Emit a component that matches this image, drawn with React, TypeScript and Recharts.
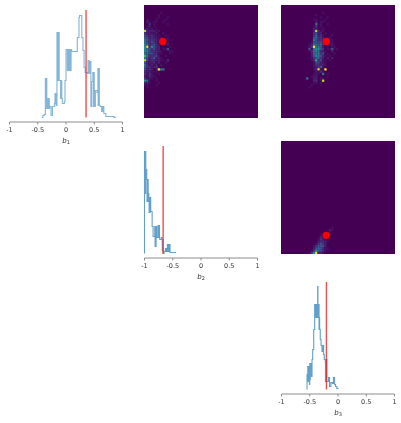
import React from "react";
import { LineChart, Line, XAxis, YAxis, ReferenceLine, ScatterChart, Scatter, ReferenceDot, CartesianGrid, Label } from "recharts";

const tickValues = [-1, -0.5, 0, 0.5, 1];
const trueB1 = 0.355;
const trueB2 = -0.67;
const trueB3 = -0.205;

const b1Bins = [
  -0.43, -0.41, -0.385, -0.365, -0.36, -0.355, -0.35, -0.345, -0.34, -0.335,
  -0.32, -0.315, -0.31, -0.305, -0.3, -0.295, -0.29, -0.265, -0.24, -0.205,
  -0.195, -0.176, -0.16, -0.155, -0.15, -0.145, -0.14, -0.135, -0.13, -0.12,
  -0.1, -0.095, -0.09, -0.085, -0.08, -0.075, -0.065, -0.03, -0.018, 0,
  0.018, 0.024, 0.03, 0.036, 0.042, 0.048, 0.054, 0.06, 0.066, 0.072,
  0.078, 0.084, 0.09, 0.1, 0.12, 0.2, 0.23, 0.24, 0.28, 0.3,
  0.32, 0.34, 0.37, 0.39, 0.41, 0.43, 0.44, 0.45, 0.475, 0.48,
  0.485, 0.49, 0.495, 0.5, 0.52, 0.55, 0.565, 0.57, 0.575, 0.58,
  0.585, 0.59, 0.605, 0.63, 0.65, 0.67, 0.705, 0.85, 0.87,
];
const b1Counts = [
  0, 2, 3, 39, 9, 39, 9, 39, 9, 9,
  19, 9, 19, 9, 19, 9, 11, 2, 11, 14,
  24, 12, 85, 37, 85, 37, 85, 37, 85, 37,
  37, 19, 37, 19, 37, 19, 14, 16, 37, 68,
  68, 47, 68, 47, 68, 47, 68, 47, 68, 47,
  68, 47, 68, 66, 66, 80, 100, 102, 80, 67,
  50, 45, 44, 57, 44, 56, 11, 36, 45, 11,
  45, 11, 45, 11, 27, 25, 49, 12, 49, 12,
  49, 12, 11, 6, 11, 4, 1, 0, 1,
];

const b2Bins = [
  -1, -1, -0.995, -0.99, -0.985, -0.98, -0.977, -0.96, -0.955, -0.95,
  -0.945, -0.94, -0.935, -0.93, -0.924, -0.918, -0.912, -0.906, -0.9, -0.89,
  -0.865, -0.848, -0.818, -0.813, -0.808, -0.803, -0.795, -0.783, -0.76, -0.755,
  -0.75, -0.745, -0.74, -0.735, -0.73, -0.713, -0.7, -0.69, -0.685, -0.68,
  -0.675, -0.67, -0.654, -0.63, -0.613, -0.595, -0.59, -0.585, -0.58, -0.575,
  -0.57, -0.56, -0.548, -0.443,
];
const b2Counts = [
  0, 102, 60, 102, 60, 102, 84, 74, 52, 74,
  52, 74, 52, 60, 56, 41, 56, 41, 56, 42,
  27, 17, 27, 7, 27, 7, 27, 16, 28, 16,
  28, 16, 28, 16, 14, 14, 16, 14, 3, 14,
  3, 0, 2, 5, 2, 9, 2, 9, 2, 9,
  2, 9, 1, 1,
];

const b3Bins = [
  -0.548, -0.548, -0.54, -0.535, -0.53, -0.525, -0.52, -0.513, -0.505, -0.5,
  -0.495, -0.49, -0.478, -0.47, -0.46, -0.448, -0.43, -0.413, -0.405, -0.4,
  -0.395, -0.39, -0.385, -0.38, -0.375, -0.37, -0.36, -0.355, -0.343, -0.335,
  -0.33, -0.325, -0.314, -0.3, -0.284, -0.267, -0.255, -0.243, -0.226, -0.222,
  -0.218, -0.214, -0.21, -0.197, -0.167, -0.15, -0.126, -0.1, -0.08, -0.06,
  -0.044, -0.02, 0.01,
];
const b3Counts = [
  0, 15, 8, 23, 8, 23, 8, 22, 5, 26,
  10, 26, 26, 13, 30, 40, 60, 85, 72, 85,
  72, 85, 72, 85, 72, 85, 103, 72, 85, 60,
  72, 60, 50, 44, 38, 44, 35, 30, 28, 8,
  30, 8, 30, 8, 12, 3, 7, 6, 12, 5,
  3, 1, 1,
];

// density classes of the 2-d histograms, one string per bin row
const b2b1FirstRow = 3;
const b2b1Rows = [
  "0000000100000", "0000001000000", "0000001000100", "0100010001000",
  "0210110010000", "0030100000100", "0120100000000", "1211010000000",
  "8222211000000", "3221120010000", "4323211001000", "4423221100100",
  "5433321101100", "5434321000100", "6533431000200", "6936432000010",
  "6543422011400", "6643332100011", "5544331100010", "7533341001000",
  "5423422100000", "8423322110300", "4222312001000", "5312120100000",
  "4331230000000", "4232019550000", "3221110000000", "3131001000000",
  "2131100000000", "3121010000000", "6510010000000", "2210001000000",
  "1100010000000", "0100000000000",
];
const b3b1FirstCol = 10;
const b3b1FirstRow = 3;
const b3b1Rows = [
  "0000000010000000", "0000010000000000", "0000000100100000", "0000110001000000",
  "0000020110000000", "0000050100100000", "0000130100000000", "0000220010000000",
  "0000282110000000", "0000342201000000", "0000352310001000", "0000453320110000",
  "0000543320101000", "0001444420011000", "0012554530012000", "0013955420101100",
  "0040566430114010", "0013565321002000", "0002556340100100", "0002465421010000",
  "0001345320202000", "0001373411010000", "0000144221000000", "0000133221000000",
  "0000123410000000", "0000129119000000", "0000021310000000", "0000111050100000",
  "0001120000000000", "0500220110000000", "0000230180000000", "0000110100000000",
  "0001000000000000", "0010000000000000",
];
const b3b2FirstCol = 10;
const b3b2FirstRow = 38;
const b3b2Rows = [
  "0000000000001000", "0000000000021000", "0000000000010000", "0000000111000000",
  "0000000210000000", "0000001321000000", "0000002332100000", "0000013432000000",
  "0000134442000000", "0000245431100000", "0001365431000000", "0013692210000000",
];

const viridis = ["#440154", "#461063", "#472070", "#46307d", "#3b528b", "#2c758e", "#21908d", "#35b779", "#b5de2b", "#fde725"];

const cellsOf = (rows: string[], firstRow: number, firstCol: number) => {
  const out: { x: number; y: number; v: number }[] = [];
  rows.forEach((row, i) => {
    row.split("").forEach((c, j) => {
      if (c !== "0") {
        out.push({ x: -1 + (firstCol + j + 0.5) * 0.04, y: 1 - (firstRow + i + 0.5) * 0.04, v: Number(c) });
      }
    });
  });
  return out;
};

const font = "'DejaVu Sans', sans-serif";
const tickFmt = (v: number) => String(v);

const Cell = (p: any) => (
  <rect x={p.cx - 1.15} y={p.cy - 1.15} width={2.3} height={2.3} fill={viridis[p.payload.v]} />
);

function Heat({ left, top, rows, firstRow, firstCol, dx, dy }: any) {
  return (
    <div style={{ position: "absolute", left, top }}>
      <ScatterChart width={114} height={113} margin={{ left: 0, right: 0, top: 0, bottom: 0 }}>
        <CartesianGrid horizontal={false} vertical={false} fill="#440154" fillOpacity={1} />
        <XAxis type="number" dataKey="x" domain={[-1, 1]} hide />
        <YAxis type="number" dataKey="y" domain={[-1, 1]} hide />
        <Scatter data={cellsOf(rows, firstRow, firstCol)} shape={Cell} isAnimationActive={false} />
        <ReferenceDot x={dx} y={dy} r={3.7} fill="#ff0000" stroke="none" />
      </ScatterChart>
    </div>
  );
}

function Hist({ left, top, bins, counts, truth, sub, opacity }: any) {
  const data = bins.map((x: number, i: number) => ({ x, c: counts[i] }));
  return (
    <div style={{ position: "absolute", left: left - 8, top }}>
      <LineChart width={135} height={145} data={data} margin={{ left: 8.5, right: 13.5, top: 0, bottom: 0 }}>
        <XAxis
          type="number"
          dataKey="x"
          domain={[-1, 1]}
          ticks={tickValues}
          tickFormatter={tickFmt}
          interval={0}
          stroke="#8c8c8c"
          tickSize={2.5}
          tickMargin={3}
          height={28}
          tick={{ fontSize: 6.5, fill: "#333", fontFamily: font }}
        >
          <Label
            content={(p: any) => (
              <text x={p.viewBox.x + p.viewBox.width / 2} y={p.viewBox.y + 20.5} textAnchor="middle" fontFamily={font} fontSize={7} fill="#333">
                <tspan fontStyle="italic">b</tspan>
                <tspan fontSize={5} dy={1.5}>{sub}</tspan>
              </text>
            )}
          />
        </XAxis>
        <YAxis type="number" domain={[-4.5, 112.5]} hide />
        <Line type="stepAfter" dataKey="c" stroke="#1f77b4" strokeOpacity={opacity} strokeWidth={1.1} dot={false} isAnimationActive={false} />
        <ReferenceLine segment={[{ x: truth, y: 0 }, { x: truth, y: 107.5 }]} stroke="#f02020" strokeOpacity={0.8} strokeWidth={1.4} />
      </LineChart>
    </div>
  );
}

export default function App() {
  return (
    <div style={{ position: "absolute", left: 0, top: 0, width: 401, height: 423, overflow: "hidden", background: "#fff", filter: "blur(0.35px)" }}>
      <Hist left={8.5} top={5} bins={b1Bins} counts={b1Counts} truth={trueB1} sub="1" opacity={0.55} />
      <Heat left={144} top={5} rows={b2b1Rows} firstRow={b2b1FirstRow} firstCol={0} dx={trueB2} dy={trueB1} />
      <Heat left={281} top={5} rows={b3b1Rows} firstRow={b3b1FirstRow} firstCol={b3b1FirstCol} dx={trueB3} dy={trueB1} />
      <Hist left={144} top={141} bins={b2Bins} counts={b2Counts} truth={trueB2} sub="2" opacity={0.7} />
      <Heat left={281} top={141} rows={b3b2Rows} firstRow={b3b2FirstRow} firstCol={b3b2FirstCol} dx={trueB3} dy={trueB2} />
      <Hist left={281} top={277} bins={b3Bins} counts={b3Counts} truth={trueB3} sub="3" opacity={0.7} />
    </div>
  );
}
